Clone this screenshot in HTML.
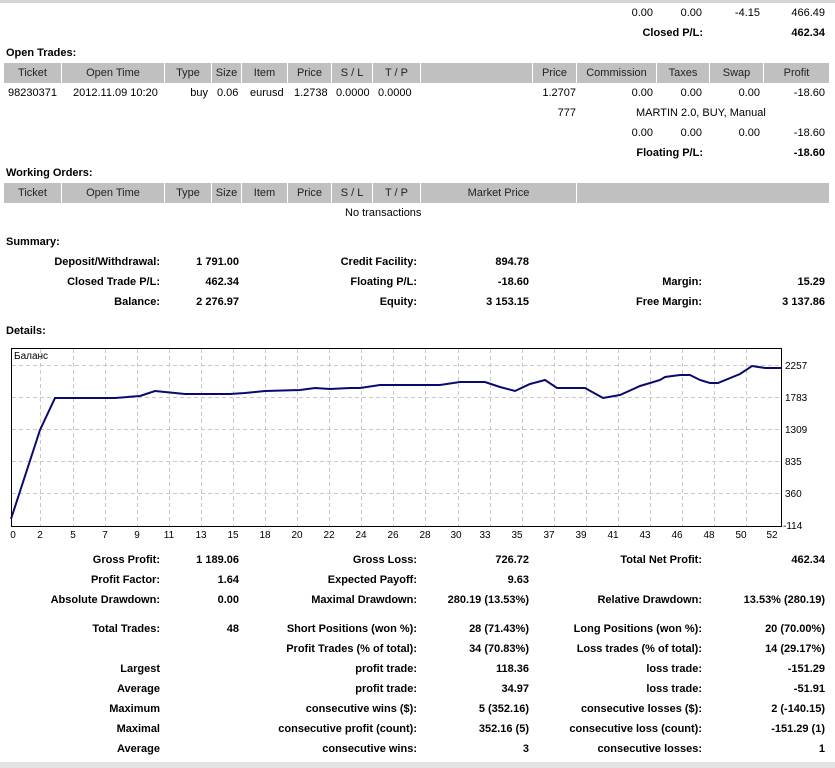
<!DOCTYPE html><html><head><meta charset="utf-8"><style>
body{margin:0;width:835px;height:768px;background:#fff;position:relative;overflow:hidden;font-family:"Liberation Sans",Tahoma,sans-serif;font-size:11px;color:#000}
span{position:absolute;white-space:nowrap;line-height:14px}
.r{text-align:right}
.b{font-weight:bold}
.hd{position:absolute;height:20px;background:#c0c0c0;border-right:1px solid #fff;text-align:center;line-height:20px;color:#222}
</style></head><body>
<div style="position:absolute;left:0;top:0;width:835px;height:3px;background:#d4d4d4"></div>
<div style="position:absolute;left:0;top:762px;width:835px;height:6px;background:#e4e4e4"></div>

<span class="r" style="right:182px;top:6px">0.00</span>
<span class="r" style="right:133px;top:6px">0.00</span>
<span class="r" style="right:75px;top:6px">-4.15</span>
<span class="r" style="right:10px;top:6px">466.49</span>
<span class="r b" style="right:132px;top:26px">Closed P/L:</span>
<span class="r b" style="right:10px;top:26px">462.34</span>

<span class="b" style="left:6px;top:46px">Open Trades:</span>
<div class="hd" style="left:4px;top:63px;width:57px">Ticket</div>
<div class="hd" style="left:62px;top:63px;width:102px">Open Time</div>
<div class="hd" style="left:165px;top:63px;width:46px">Type</div>
<div class="hd" style="left:212px;top:63px;width:29px">Size</div>
<div class="hd" style="left:242px;top:63px;width:45px">Item</div>
<div class="hd" style="left:288px;top:63px;width:43px">Price</div>
<div class="hd" style="left:332px;top:63px;width:40px">S / L</div>
<div class="hd" style="left:373px;top:63px;width:47px">T / P</div>
<div class="hd" style="left:421px;top:63px;width:111px"></div>
<div class="hd" style="left:533px;top:63px;width:43px">Price</div>
<div class="hd" style="left:577px;top:63px;width:79px">Commission</div>
<div class="hd" style="left:657px;top:63px;width:52px">Taxes</div>
<div class="hd" style="left:710px;top:63px;width:53px">Swap</div>
<div class="hd" style="left:764px;top:63px;width:65px;border:0">Profit</div>

<span style="left:8px;top:86px">98230371</span>
<span style="left:73px;top:86px">2012.11.09 10:20</span>
<span class="r" style="right:627px;top:86px">buy</span>
<span style="left:217px;top:86px">0.06</span>
<span style="left:250px;top:86px">eurusd</span>
<span style="left:294px;top:86px">1.2738</span>
<span style="left:336px;top:86px">0.0000</span>
<span style="left:378px;top:86px">0.0000</span>
<span class="r" style="right:259px;top:86px">1.2707</span>
<span class="r" style="right:182px;top:86px">0.00</span>
<span class="r" style="right:133px;top:86px">0.00</span>
<span class="r" style="right:75px;top:86px">0.00</span>
<span class="r" style="right:10px;top:86px">-18.60</span>
<span class="r" style="right:259px;top:106px">777</span>
<span style="left:636px;top:106px">MARTIN 2.0, BUY, Manual</span>
<span class="r" style="right:182px;top:126px">0.00</span>
<span class="r" style="right:133px;top:126px">0.00</span>
<span class="r" style="right:75px;top:126px">0.00</span>
<span class="r" style="right:10px;top:126px">-18.60</span>
<span class="r b" style="right:132px;top:146px">Floating P/L:</span>
<span class="r b" style="right:10px;top:146px">-18.60</span>

<span class="b" style="left:6px;top:166px">Working Orders:</span>
<div class="hd" style="left:4px;top:183px;width:57px">Ticket</div>
<div class="hd" style="left:62px;top:183px;width:102px">Open Time</div>
<div class="hd" style="left:165px;top:183px;width:46px">Type</div>
<div class="hd" style="left:212px;top:183px;width:29px">Size</div>
<div class="hd" style="left:242px;top:183px;width:45px">Item</div>
<div class="hd" style="left:288px;top:183px;width:43px">Price</div>
<div class="hd" style="left:332px;top:183px;width:40px">S / L</div>
<div class="hd" style="left:373px;top:183px;width:47px">T / P</div>
<div class="hd" style="left:421px;top:183px;width:155px">Market Price</div>
<div class="hd" style="left:577px;top:183px;width:252px;border:0"></div>
<span style="left:345px;top:206px">No transactions</span>

<span class="b" style="left:6px;top:235px">Summary:</span>
<span class="r b" style="right:675px;top:255px">Deposit/Withdrawal:</span><span class="r b" style="right:596px;top:255px">1 791.00</span>
<span class="r b" style="right:418px;top:255px">Credit Facility:</span><span class="r b" style="right:306px;top:255px">894.78</span>
<span class="r b" style="right:675px;top:275px">Closed Trade P/L:</span><span class="r b" style="right:596px;top:275px">462.34</span>
<span class="r b" style="right:418px;top:275px">Floating P/L:</span><span class="r b" style="right:306px;top:275px">-18.60</span>
<span class="r b" style="right:133px;top:275px">Margin:</span><span class="r b" style="right:10px;top:275px">15.29</span>
<span class="r b" style="right:675px;top:295px">Balance:</span><span class="r b" style="right:596px;top:295px">2 276.97</span>
<span class="r b" style="right:418px;top:295px">Equity:</span><span class="r b" style="right:306px;top:295px">3 153.15</span>
<span class="r b" style="right:133px;top:295px">Free Margin:</span><span class="r b" style="right:10px;top:295px">3 137.86</span>

<span class="b" style="left:6px;top:324px">Details:</span>

<svg style="position:absolute;left:0;top:0" width="835" height="545" font-family="Liberation Sans, sans-serif" font-size="10">
<g stroke="#c8c8c8" stroke-dasharray="4,3" stroke-width="1">
<line x1="12" y1="365.5" x2="781" y2="365.5"/><line x1="12" y1="397.5" x2="781" y2="397.5"/><line x1="12" y1="429.5" x2="781" y2="429.5"/><line x1="12" y1="461.5" x2="781" y2="461.5"/><line x1="12" y1="493.5" x2="781" y2="493.5"/>
<line x1="40.5" y1="349" x2="40.5" y2="526"/><line x1="73.5" y1="349" x2="73.5" y2="526"/><line x1="105.5" y1="349" x2="105.5" y2="526"/><line x1="137.5" y1="349" x2="137.5" y2="526"/><line x1="169.5" y1="349" x2="169.5" y2="526"/><line x1="201.5" y1="349" x2="201.5" y2="526"/><line x1="233.5" y1="349" x2="233.5" y2="526"/><line x1="265.5" y1="349" x2="265.5" y2="526"/><line x1="297.5" y1="349" x2="297.5" y2="526"/><line x1="329.5" y1="349" x2="329.5" y2="526"/><line x1="361.5" y1="349" x2="361.5" y2="526"/><line x1="393.5" y1="349" x2="393.5" y2="526"/><line x1="425.5" y1="349" x2="425.5" y2="526"/><line x1="458.5" y1="349" x2="458.5" y2="526"/><line x1="490.5" y1="349" x2="490.5" y2="526"/><line x1="522.5" y1="349" x2="522.5" y2="526"/><line x1="554.5" y1="349" x2="554.5" y2="526"/><line x1="586.5" y1="349" x2="586.5" y2="526"/><line x1="618.5" y1="349" x2="618.5" y2="526"/><line x1="650.5" y1="349" x2="650.5" y2="526"/><line x1="682.5" y1="349" x2="682.5" y2="526"/><line x1="714.5" y1="349" x2="714.5" y2="526"/><line x1="746.5" y1="349" x2="746.5" y2="526"/>
</g>
<rect x="11.5" y="348.5" width="770" height="178" fill="none" stroke="#000"/>
<polyline fill="none" stroke="#0a0a6e" stroke-width="2" points="11,519 40,430 55,398 115,398 140,396 155,391 165,392 185,394 230,394 245,393 265,391 300,390 315,388 330,389 350,388 360,388 380,385 440,385 460,382 485,382 500,387 515,391 530,384 545,380 557,388 585,388 603,398 620,395 640,386 660,380 665,377 680,375 690,375 700,380 710,383 718,383 740,374 752,366 765,368 781,368"/>
<text x="14" y="359">Баланс</text>
<g fill="#000">
<text x="785" y="369">2257</text><text x="785" y="401">1783</text><text x="785" y="433">1309</text><text x="785" y="465">835</text><text x="785" y="497">360</text><text x="783" y="529">-114</text>
</g>
<g text-anchor="middle">
<text x="13" y="538">0</text><text x="40" y="538">2</text><text x="73" y="538">5</text><text x="105" y="538">7</text><text x="137" y="538">9</text><text x="169" y="538">11</text><text x="201" y="538">13</text><text x="233" y="538">15</text><text x="265" y="538">18</text><text x="297" y="538">20</text><text x="329" y="538">22</text><text x="361" y="538">24</text><text x="393" y="538">26</text><text x="425" y="538">28</text><text x="456" y="538">30</text><text x="485" y="538">33</text><text x="517" y="538">35</text><text x="549" y="538">37</text><text x="581" y="538">39</text><text x="613" y="538">41</text><text x="645" y="538">43</text><text x="677" y="538">46</text><text x="709" y="538">48</text><text x="741" y="538">50</text><text x="772" y="538">52</text>
</g>
</svg>

<span class="r b" style="right:675px;top:553px">Gross Profit:</span><span class="r b" style="right:596px;top:553px">1 189.06</span>
<span class="r b" style="right:418px;top:553px">Gross Loss:</span><span class="r b" style="right:306px;top:553px">726.72</span>
<span class="r b" style="right:133px;top:553px">Total Net Profit:</span><span class="r b" style="right:10px;top:553px">462.34</span>
<span class="r b" style="right:675px;top:573px">Profit Factor:</span><span class="r b" style="right:596px;top:573px">1.64</span>
<span class="r b" style="right:418px;top:573px">Expected Payoff:</span><span class="r b" style="right:306px;top:573px">9.63</span>
<span class="r b" style="right:675px;top:593px">Absolute Drawdown:</span><span class="r b" style="right:596px;top:593px">0.00</span>
<span class="r b" style="right:418px;top:593px">Maximal Drawdown:</span><span class="r b" style="right:306px;top:593px">280.19 (13.53%)</span>
<span class="r b" style="right:133px;top:593px">Relative Drawdown:</span><span class="r b" style="right:10px;top:593px">13.53% (280.19)</span>

<span class="r b" style="right:675px;top:622px">Total Trades:</span><span class="r b" style="right:596px;top:622px">48</span>
<span class="r b" style="right:418px;top:622px">Short Positions (won %):</span><span class="r b" style="right:306px;top:622px">28 (71.43%)</span>
<span class="r b" style="right:133px;top:622px">Long Positions (won %):</span><span class="r b" style="right:10px;top:622px">20 (70.00%)</span>
<span class="r b" style="right:418px;top:642px">Profit Trades (% of total):</span><span class="r b" style="right:306px;top:642px">34 (70.83%)</span>
<span class="r b" style="right:133px;top:642px">Loss trades (% of total):</span><span class="r b" style="right:10px;top:642px">14 (29.17%)</span>
<span class="r b" style="right:675px;top:662px">Largest</span>
<span class="r b" style="right:418px;top:662px">profit trade:</span><span class="r b" style="right:306px;top:662px">118.36</span>
<span class="r b" style="right:133px;top:662px">loss trade:</span><span class="r b" style="right:10px;top:662px">-151.29</span>
<span class="r b" style="right:675px;top:682px">Average</span>
<span class="r b" style="right:418px;top:682px">profit trade:</span><span class="r b" style="right:306px;top:682px">34.97</span>
<span class="r b" style="right:133px;top:682px">loss trade:</span><span class="r b" style="right:10px;top:682px">-51.91</span>
<span class="r b" style="right:675px;top:702px">Maximum</span>
<span class="r b" style="right:418px;top:702px">consecutive wins ($):</span><span class="r b" style="right:306px;top:702px">5 (352.16)</span>
<span class="r b" style="right:133px;top:702px">consecutive losses ($):</span><span class="r b" style="right:10px;top:702px">2 (-140.15)</span>
<span class="r b" style="right:675px;top:722px">Maximal</span>
<span class="r b" style="right:418px;top:722px">consecutive profit (count):</span><span class="r b" style="right:306px;top:722px">352.16 (5)</span>
<span class="r b" style="right:133px;top:722px">consecutive loss (count):</span><span class="r b" style="right:10px;top:722px">-151.29 (1)</span>
<span class="r b" style="right:675px;top:742px">Average</span>
<span class="r b" style="right:418px;top:742px">consecutive wins:</span><span class="r b" style="right:306px;top:742px">3</span>
<span class="r b" style="right:133px;top:742px">consecutive losses:</span><span class="r b" style="right:10px;top:742px">1</span>
</body></html>
